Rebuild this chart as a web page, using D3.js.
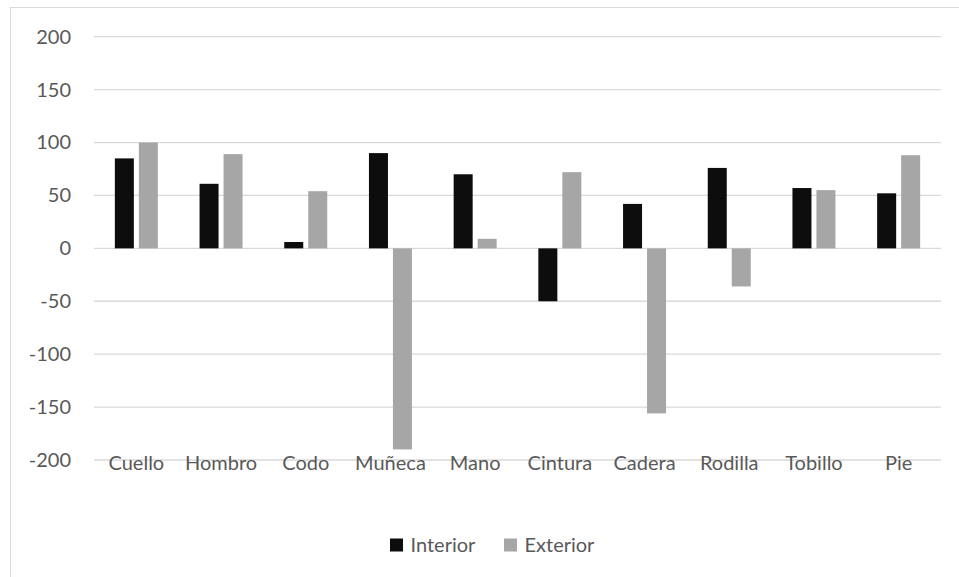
<!DOCTYPE html>
<html>
<head>
<meta charset="utf-8">
<script src="https://cdn.jsdelivr.net/npm/d3@7"></script>
<style>
  html, body { margin: 0; padding: 0; background: #fff; }
  svg { display: block; }
  text { font-family: Lato, "Open Sans", sans-serif; fill: #595959; }
</style>
</head>
<body>
<svg id="chart" width="959" height="577"></svg>
<script>
const categories = ["Cuello", "Hombro", "Codo", "Muñeca", "Mano", "Cintura", "Cadera", "Rodilla", "Tobillo", "Pie"];
const seriesNames = ["Interior", "Exterior"];
const interior = [85, 61, 6, 90, 70, -50, 42, 76, 57, 52];
const exterior = [100, 89, 54, -190, 9, 72, -156, -36, 55, 88];
const yTicks = [-200, -150, -100, -50, 0, 50, 100, 150, 200];
const colors = ["#0d0d0d", "#a6a6a6"];

const svg = d3.select("#chart");
const W = 959, H = 577;
const plot = { left: 94, right: 941, top: 36.7, bottom: 460 };

// chart area border
svg.append("rect")
  .attr("x", 10.5).attr("y", 7.5)
  .attr("width", W + 10).attr("height", H + 10)
  .attr("fill", "#fff").attr("stroke", "#d9d9d9").attr("stroke-width", 1);

const y = d3.scaleLinear().domain([-200, 200]).range([plot.bottom, plot.top]);
const x0 = d3.scaleBand().domain(categories).range([plot.left, plot.right])
  .paddingInner(0.4923).paddingOuter(0.24615);
const x1 = d3.scaleBand().domain(seriesNames).range([0, x0.bandwidth()]).paddingInner(0.208);

// gridlines
svg.append("g").selectAll("line").data(yTicks).join("line")
  .attr("x1", plot.left).attr("x2", plot.right)
  .attr("y1", d => y(d)).attr("y2", d => y(d))
  .attr("stroke", "#d9d9d9").attr("stroke-width", 1.3);

// y labels
const yAxis = d3.axisLeft(y).tickValues(yTicks).tickSize(0).tickPadding(0)
  .tickFormat(d => String(d));
const gy = svg.append("g").attr("transform", "translate(71,0)").call(yAxis);
gy.select(".domain").remove();
gy.selectAll("text").attr("font-size", 20).attr("fill", "#595959")
  .style("font-family", "Lato, 'Open Sans', sans-serif");

// bars
const data = categories.map((c, i) => ({ cat: c, vals: [
  { s: "Interior", v: interior[i] }, { s: "Exterior", v: exterior[i] } ] }));
const groups = svg.append("g").selectAll("g").data(data).join("g")
  .attr("transform", d => `translate(${x0(d.cat)},0)`);
groups.selectAll("rect").data(d => d.vals).join("rect")
  .attr("x", d => x1(d.s))
  .attr("width", x1.bandwidth())
  .attr("y", d => Math.min(y(d.v), y(0)))
  .attr("height", d => Math.abs(y(d.v) - y(0)))
  .attr("fill", (d, i) => colors[i]);

// x labels
const xAxis = d3.axisBottom(x0).tickSize(0).tickPadding(0);
const gx = svg.append("g").attr("transform", `translate(0,${y(0)})`).call(xAxis);
gx.select(".domain").remove();
gx.selectAll("text")
  .attr("y", 470 - y(0)).attr("dy", 0)
  .attr("font-size", 20).attr("fill", "#595959")
  .style("font-family", "Lato, 'Open Sans', sans-serif");

// legend
const legend = svg.append("g");
const legendItems = [
  { name: seriesNames[0], color: colors[0], x: 390 },
  { name: seriesNames[1], color: colors[1], x: 504 }
];
legendItems.forEach(it => {
  legend.append("rect").attr("x", it.x).attr("y", 538.5)
    .attr("width", 13).attr("height", 13).attr("fill", it.color);
  legend.append("text").attr("x", it.x + 20.5).attr("y", 552)
    .attr("font-size", 20).text(it.name);
});
</script>
</body>
</html>
